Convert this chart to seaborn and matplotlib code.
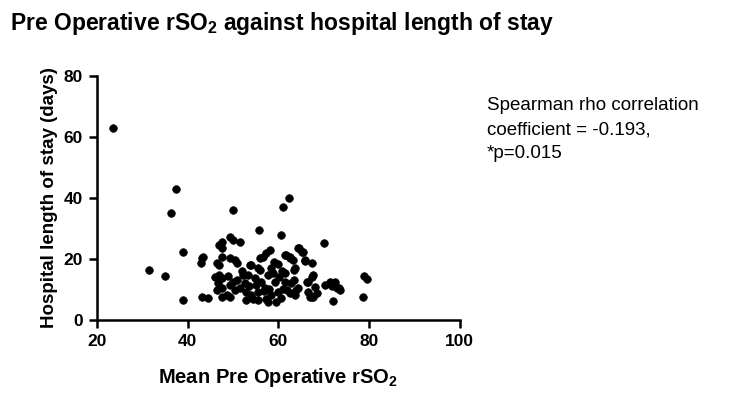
import matplotlib
matplotlib.use("Agg")
import matplotlib.pyplot as plt
import seaborn as sns
import pandas as pd

# Valores (rSO2 medio pre operatorio x dias de internacao)
rso2 = [
    23.5, 37.4, 36.3, 31.5, 35.0, 38.9, 39.0, 50.0, 62.3, 61.0,
    55.7, 60.5, 70.0, 78.8, 79.5, 78.6, 72.0, 43.3, 43.3, 43.5,
    43.0, 49.3, 50.0, 51.5, 47.0, 47.7, 47.5, 47.7, 46.4, 47.0,
    49.3, 50.4, 51.0, 46.0, 47.0, 47.7, 46.7, 47.5, 46.4, 49.3,
    50.0, 50.4, 48.6, 49.3, 47.7, 51.5, 52.2, 52.6, 53.0, 58.1,
    57.4, 56.6, 55.9, 61.8, 62.5, 64.3, 65.2, 65.8, 63.6, 61.4,
    66.3, 66.5, 54.1, 55.5, 53.3, 54.8, 56.3, 57.7, 58.5, 59.2,
    57.0, 55.5, 54.1, 58.5, 59.9, 60.7, 57.7, 55.5, 62.0, 61.4,
    62.9, 63.6, 64.3, 67.4, 67.6, 68.0, 67.4, 68.5, 70.2, 71.3,
    72.0, 72.9, 73.5, 73.3, 72.6, 71.8, 67.0, 67.6, 67.4, 66.5,
    66.0, 65.4, 64.5, 63.2, 62.5, 61.4, 63.4, 63.4, 64.0, 62.5,
    52.0, 53.5, 56.0, 58.8, 60.0, 54.5, 57.2, 59.5, 51.0, 52.8,
    56.8, 60.2, 61.0, 53.8, 55.0, 58.0, 59.0, 60.8, 49.0, 44.5,
]
dias = [
    63.0, 43.0, 35.0, 16.4, 14.4, 22.3, 6.6, 36.0, 40.0, 37.0,
    29.5, 28.0, 25.2, 14.4, 13.4, 7.5, 6.2, 7.5, 20.3, 20.7,
    18.7, 27.2, 26.2, 25.6, 24.6, 25.6, 23.6, 20.7, 18.7, 18.0,
    20.3, 19.7, 18.7, 14.1, 14.8, 13.8, 12.1, 10.5, 9.8, 11.5,
    12.5, 9.8, 8.2, 7.5, 7.5, 10.5, 14.8, 12.1, 9.2, 23.0,
    22.0, 20.7, 20.3, 21.3, 20.3, 23.6, 22.3, 19.7, 17.0, 15.4,
    12.5, 9.2, 18.0, 17.0, 14.8, 13.8, 12.5, 14.8, 17.0, 12.5,
    10.5, 9.2, 8.2, 8.2, 9.2, 7.2, 5.9, 6.6, 9.8, 12.5,
    12.1, 8.2, 10.5, 18.7, 14.8, 10.8, 7.5, 8.9, 11.5, 12.5,
    12.1, 10.5, 9.8, 10.5, 12.5, 11.0, 7.5, 7.5, 14.0, 12.5,
    19.3, 22.3, 23.6, 19.7, 20.7, 21.3, 16.4, 13.1, 9.8, 8.9,
    16.0, 11.0, 16.5, 15.5, 18.5, 6.8, 7.0, 6.0, 13.0, 6.5,
    9.5, 14.0, 10.0, 18.0, 11.5, 10.0, 19.0, 16.0, 14.5, 7.2,
]

df = pd.DataFrame({"rso2": rso2, "dias": dias})

sns.set_style("ticks")
plt.rcParams["font.family"] = ["Liberation Sans", "DejaVu Sans"]
plt.rcParams["mathtext.fontset"] = "custom"
plt.rcParams["mathtext.rm"] = "Liberation Sans:bold"
plt.rcParams["mathtext.default"] = "rm"
# texto e eixos em preto puro, como no original
for chave in ["text.color", "axes.labelcolor", "xtick.color", "ytick.color", "axes.edgecolor"]:
    plt.rcParams[chave] = "black"

fig = plt.figure(figsize=(7.5, 3.99), dpi=100)
ax = fig.add_axes([0.129, 0.198, 0.484, 0.612])

sns.scatterplot(data=df, x="rso2", y="dias", color="black", s=30,
                edgecolor="black", linewidth=0.5, ax=ax, clip_on=False)

ax.set_xlim(20, 100)
ax.set_ylim(0, 80)
ax.set_xticks([20, 40, 60, 80, 100])
ax.set_yticks([0, 20, 40, 60, 80])
sns.despine(ax=ax)
for lado in ["left", "bottom"]:
    ax.spines[lado].set_linewidth(1.8)
ax.tick_params(width=1.8, length=6, labelsize=12.5, pad=4)
for lbl in ax.get_xticklabels() + ax.get_yticklabels():
    lbl.set_fontweight("bold")

ax.set_xlabel("Mean Pre Operative rSO$_2$", fontsize=14.5, fontweight="bold", labelpad=12)
ax.set_ylabel("Hospital length of stay (days)", fontsize=13.5, fontweight="bold", labelpad=4)

fig.text(0.013, 0.94, "Pre Operative rSO$_2$ against hospital length of stay",
         fontsize=16.5, fontweight="bold", va="center", ha="left")
fig.text(0.649, 0.675, "Spearman rho correlation\ncoefficient = -0.193,\n*p=0.015",
         fontsize=13.5, va="center", ha="left", linespacing=1.55)

fig.savefig("out.png", dpi=100)
